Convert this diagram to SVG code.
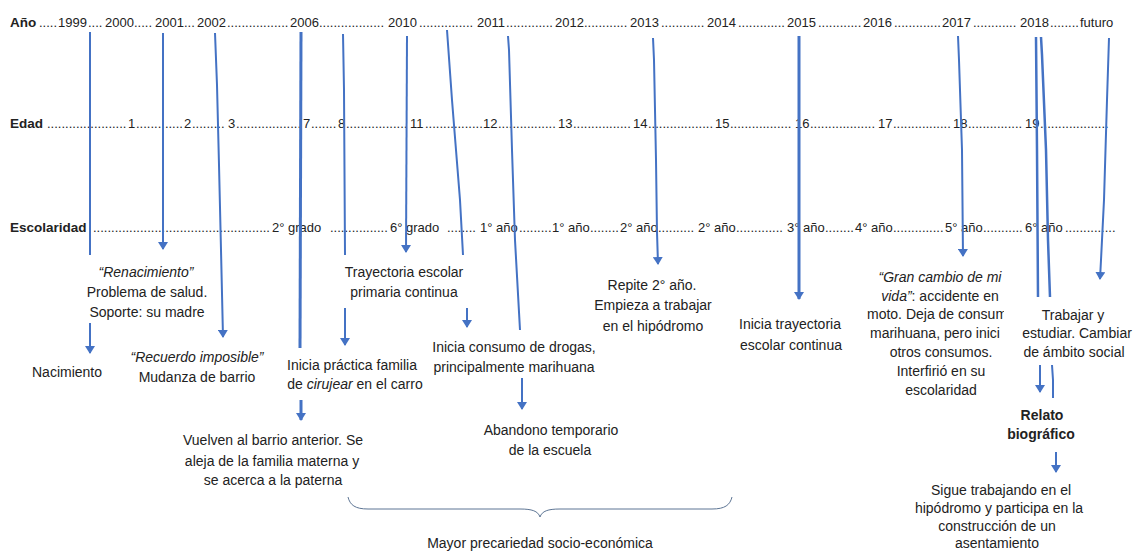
<svg xmlns="http://www.w3.org/2000/svg" width="1137" height="551" viewBox="0 0 1137 551">
<defs>
<style>
text{font-family:"Liberation Sans",Arial,sans-serif;fill:#222}
.row{font-size:13px}
.lbl{font-weight:bold;font-size:13.5px}
.t{font-size:14px;text-anchor:middle}
.s{font-size:14px}
.b{font-weight:bold}
.i{font-style:italic}
.c{fill:none;stroke:#4472C4;stroke-width:2;stroke-linejoin:round}
.thick{stroke-width:3}
.mid{stroke-width:2.5}
.a{marker-end:url(#ah)}
.brace{fill:none;stroke:#5d7594;stroke-width:1}
</style>
<marker id="ah" viewBox="0 0 8 10" refX="7" refY="5" markerWidth="8" markerHeight="10" orient="auto" markerUnits="userSpaceOnUse" preserveAspectRatio="none"><path d="M0,0L8,5L0,10z" fill="#4472C4"/></marker>
<clipPath id="clipGran"><rect x="850" y="260" width="154" height="150"/></clipPath>
</defs>
<rect width="1137" height="551" fill="#fff"/>

<g id="timeline-rows">
<text class="row" y="27"><tspan class="lbl" x="10">Año</tspan><tspan x="39">.....</tspan><tspan x="58">1999</tspan><tspan x="88">....</tspan><tspan x="105">2000</tspan><tspan x="134">.....</tspan><tspan x="155">2001</tspan><tspan x="184">...</tspan><tspan x="197">2002</tspan><tspan x="227">.................</tspan><tspan x="290">2006</tspan><tspan x="319">..................</tspan><tspan x="388">2010</tspan><tspan x="419">...............</tspan><tspan x="477">2011</tspan><tspan x="506">.............</tspan><tspan x="555">2012</tspan><tspan x="584">............</tspan><tspan x="630">2013</tspan><tspan x="661">............</tspan><tspan x="707">2014</tspan><tspan x="738">.............</tspan><tspan x="787">2015</tspan><tspan x="818">............</tspan><tspan x="863">2016</tspan><tspan x="894">.............</tspan><tspan x="942">2017</tspan><tspan x="973">............</tspan><tspan x="1020">2018</tspan><tspan x="1050">........</tspan><tspan x="1080">futuro</tspan></text>
<text class="row" y="128"><tspan class="lbl" x="10">Edad</tspan><tspan x="47">......................</tspan><tspan x="128">1</tspan><tspan x="136">.............</tspan><tspan x="184">2</tspan><tspan x="192">.........</tspan><tspan x="228">3</tspan><tspan x="236">..................</tspan><tspan x="303">7</tspan><tspan x="311">.......</tspan><tspan x="338">8</tspan><tspan x="346">.................</tspan><tspan x="410">11</tspan><tspan x="425">................</tspan><tspan x="483">12</tspan><tspan x="498">................</tspan><tspan x="558">13</tspan><tspan x="573">................</tspan><tspan x="633">14</tspan><tspan x="648">..................</tspan><tspan x="715">15</tspan><tspan x="730">.................</tspan><tspan x="795">16</tspan><tspan x="810">..................</tspan><tspan x="878">17</tspan><tspan x="893">................</tspan><tspan x="953">18</tspan><tspan x="968">...............</tspan><tspan x="1025">19</tspan><tspan x="1040">...................</tspan></text>
<text class="row" y="232"><tspan class="lbl" x="10">Escolaridad</tspan><tspan x="93">.................................................</tspan><tspan x="272">2° grado</tspan><tspan x="330">................</tspan><tspan x="390">6° grado</tspan><tspan x="447">........</tspan><tspan x="480">1° año</tspan><tspan x="519">.........</tspan><tspan x="552">1° año</tspan><tspan x="590">........</tspan><tspan x="620">2° año</tspan><tspan x="658">..........</tspan><tspan x="698">2° año</tspan><tspan x="736">.............</tspan><tspan x="787">3° año</tspan><tspan x="825">........</tspan><tspan x="855">4° año</tspan><tspan x="893">..............</tspan><tspan x="945">5° año</tspan><tspan x="983">...........</tspan><tspan x="1025">6° año</tspan><tspan x="1065">..............</tspan></text>
</g>

<g id="connectors">
<polyline class="c" points="90,32 90,255"/>
<polyline class="c a" points="90,323 90,353"/>
<polyline class="c a" points="163,33 163,249"/>
<polyline class="c a" points="215,33 217,85 219,165 221,250 223,337"/>
<polyline class="c thick" points="301,32 300,348"/>
<polyline class="c thick a" points="301,400 301,420"/>
<polyline class="c" points="343,34 344,90 345,255"/>
<polyline class="c a" points="345,308 345,345"/>
<polyline class="c a" points="407,36 406,252"/>
<polyline class="c" points="447,30 452,100 460,200 463,255"/>
<polyline class="c a" points="467,308 467,327"/>
<polyline class="c" points="508,36 509,50 512,150 515,240 520,330"/>
<polyline class="c a" points="522,378 522,409"/>
<polyline class="c a" points="653,38 654,60 656,160 657,232 658,264"/>
<polyline class="c thick a" points="799,36 799,299"/>
<polyline class="c a" points="958,36 959,60 962,150 963,256"/>
<polyline class="c mid" points="1036,37 1037,150 1038,297"/>
<polyline class="c mid" points="1041,37 1042,55 1046,150 1048,240 1050,297"/>
<polyline class="c a" points="1040,365 1040,392"/>
<polyline class="c" points="1052,365 1053,380 1053,398"/>
<polyline class="c a" points="1056,452 1056,472"/>
<polyline class="c a" points="1109,38 1107,100 1104,200 1101,260 1100,279"/>
</g>

<g id="n-renacimiento">
<text class="t" x="146" y="277"><tspan class="i">“Renacimiento”</tspan></text>
<text class="t" x="147" y="297">Problema de salud.</text>
<text class="t" x="147" y="317">Soporte: su madre</text>
</g>
<g id="n-nacimiento">
<text class="t" x="67" y="377">Nacimiento</text>
</g>
<g id="n-recuerdo">
<text class="t" x="197" y="362"><tspan class="i">“Recuerdo imposible”</tspan></text>
<text class="t" x="197" y="382">Mudanza de barrio</text>
</g>
<g id="n-cirujear">
<text class="t" x="352" y="370">Inicia práctica familia</text>
<text class="t" x="355" y="389">de <tspan class="i">cirujear</tspan> en el carro</text>
</g>
<g id="n-vuelven">
<text class="t" x="273" y="445">Vuelven al barrio anterior. Se</text>
<text class="t" x="272" y="466">aleja de la familia materna y</text>
<text class="t" x="273" y="485">se acerca a la paterna</text>
</g>
<g id="n-trayectoria-primaria">
<text class="t" x="404" y="277">Trayectoria escolar</text>
<text class="t" x="404" y="297">primaria continua</text>
</g>
<g id="n-consumo">
<text class="t" x="514" y="352">Inicia consumo de drogas,</text>
<text class="t" x="514" y="372">principalmente marihuana</text>
</g>
<g id="n-abandono">
<text class="t" x="551" y="435">Abandono temporario</text>
<text class="t" x="550" y="455">de la escuela</text>
</g>
<g id="n-repite">
<text class="t" x="652" y="290">Repite 2° año.</text>
<text class="t" x="653" y="310">Empieza a trabajar</text>
<text class="t" x="653" y="331">en el hipódromo</text>
</g>
<g id="n-trayectoria-continua">
<text class="t" x="790" y="329">Inicia trayectoria</text>
<text class="t" x="791" y="350">escolar continua</text>
</g>
<g id="n-gran-cambio">
<text class="t" x="940" y="282"><tspan class="i">“Gran cambio de mi</tspan></text>
<text class="t" x="940" y="301"><tspan class="i">vida”</tspan>: accidente en</text>
<g clip-path="url(#clipGran)">
<text class="s" x="867" y="319">moto. Deja de consum</text>
<text class="s" x="870" y="338">marihuana, pero inici</text>
</g>
<text class="t" x="941" y="357">otros consumos.</text>
<text class="t" x="941" y="376">Interfirió en su</text>
<text class="t" x="941" y="395">escolaridad</text>
</g>
<g id="n-trabajar">
<text class="t" x="1073" y="320">Trabajar y</text>
<text class="t" x="1077" y="338">estudiar. Cambiar</text>
<text class="t" x="1074" y="357">de ámbito social</text>
</g>
<g id="n-relato">
<text class="t b" x="1042" y="420">Relato</text>
<text class="t b" x="1041" y="439">biográfico</text>
</g>
<g id="n-sigue">
<text class="t" x="1001" y="495">Sigue trabajando en el</text>
<text class="t" x="999" y="513">hipódromo y participa en la</text>
<text class="t" x="997" y="531">construcción de un</text>
<text class="t" x="997" y="548">asentamiento</text>
</g>
<g id="n-precariedad">
<path class="brace" d="M348,497 C350,505 355,509 368,509 L520,509 C532,509 538,511 540,517 C542,511 548,509 560,509 L712,509 C725,509 730,505 732,497"/>
<text class="t" x="540" y="548">Mayor precariedad socio-económica</text>
</g>
</svg>
